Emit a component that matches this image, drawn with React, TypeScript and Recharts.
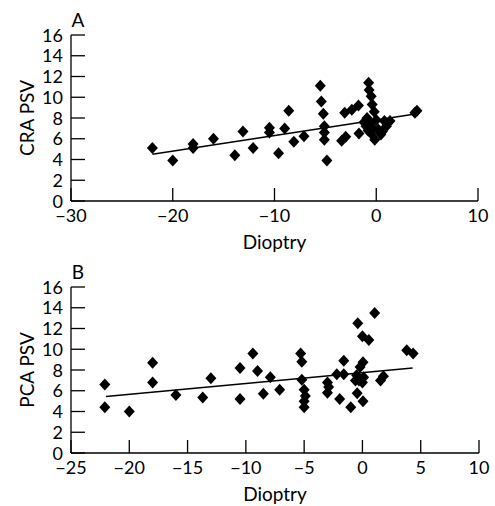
import React from 'react';
import { ScatterChart, Scatter, XAxis, YAxis, ReferenceLine } from 'recharts';

const FONT = 'Lato, "Noto Sans", sans-serif';

// Panel A: dioptry vs CRA PSV
const dioptryA = [
  -22.0, -20.0, -18.0, -18.0, -16.0, -13.9, -13.1, -12.1, -10.5, -10.5,
  -9.6, -9.0, -8.6, -8.1, -7.1, -5.5, -5.4, -5.2, -5.1, -5.1,
  -5.1, -4.85, -3.4, -3.0, -3.1, -2.4, -1.75, -1.7, -0.75, -0.7,
  -0.5, -0.4, -0.2, -0.9, -0.6, -1.0, -0.3, -0.8, 0.0, -0.5,
  0.2, -0.15, 0.45, 0.8, 1.0, 1.35, 3.8, 4.0, -1.2, 0.6,
];
const craPSV = [
  5.1, 3.9, 5.5, 5.1, 6.0, 4.4, 6.7, 5.1, 7.05, 6.6,
  4.6, 7.0, 8.7, 5.7, 6.25, 11.1, 9.6, 8.4, 7.2, 6.6,
  5.9, 3.9, 5.8, 6.2, 8.5, 8.8, 9.2, 6.5, 11.4, 10.7,
  10.1, 9.3, 8.6, 8.0, 7.6, 7.2, 7.0, 6.8, 7.8, 6.5,
  6.9, 5.9, 6.4, 7.7, 7.2, 7.7, 8.5, 8.7, 7.6, 6.7,
];
const fitA = [
  { x: -22, y: 4.5 },
  { x: 4, y: 8.4 },
];

// Panel B: dioptry vs PCA PSV
const dioptryB = [
  -22.1, -22.1, -20.0, -18.0, -18.0, -16.0, -13.7, -13.0, -10.5, -10.5,
  -9.4, -9.0, -8.5, -7.9, -7.1, -5.3, -5.2, -5.2, -5.0, -4.9,
  -5.0, -5.0, -3.0, -2.9, -3.0, -2.2, -1.6, -1.6, -1.95, -1.0,
  -0.4, 1.05, 0.0, 0.55, 0.05, -0.2, -0.5, -0.3, 0.1, -0.6,
  0.05, -0.45, 1.55, 1.8, 3.8, 4.35, 0.0,
];
const pcaPSV = [
  6.6, 4.4, 4.0, 8.7, 6.8, 5.6, 5.35, 7.2, 8.2, 5.2,
  9.6, 7.9, 5.7, 7.3, 6.1, 9.6, 8.8, 7.05, 6.1, 5.5,
  5.0, 4.4, 6.8, 6.35, 5.8, 7.6, 8.9, 7.6, 5.2, 4.4,
  12.5, 13.5, 11.25, 10.9, 8.75, 8.3, 7.5, 7.0, 7.3, 7.0,
  5.0, 5.75, 7.0, 7.4, 9.9, 9.6, 6.8,
];
const fitB = [
  { x: -22, y: 5.45 },
  { x: 4.3, y: 8.2 },
];

const yTicks = [0, 2, 4, 6, 8, 10, 12, 14, 16];
const xTicksA = [-30, -20, -10, 0, 10];
const xTicksB = [-25, -20, -15, -10, -5, 0, 5, 10];

const pointsA = dioptryA.map((d, i) => ({ x: d, y: craPSV[i] }));
const pointsB = dioptryB.map((d, i) => ({ x: d, y: pcaPSV[i] }));

const fmt = (v: number) => (v < 0 ? `\u2212${Math.abs(v)}` : `${v}`);

function YTick({ x, y, payload }: any) {
  return (
    <g>
      <line x1={x} y1={y} x2={x + 14} y2={y} stroke="#000" strokeWidth={1.3} />
      <text x={x - 8} y={y + 6.5} textAnchor="end" fontSize={18} fontFamily={FONT} fill="#000">
        {payload.value}
      </text>
    </g>
  );
}

function XTick({ x, y, payload }: any) {
  return (
    <g>
      <line x1={x} y1={y} x2={x} y2={y - 13} stroke="#000" strokeWidth={1.3} />
      <text x={x} y={y + 21} textAnchor="middle" fontSize={18} fontFamily={FONT} fill="#000">
        {fmt(payload.value)}
      </text>
    </g>
  );
}

const diamond = (props: any) => {
  const { cx, cy } = props;
  return (
    <path
      d={`M${cx},${cy - 6}L${cx + 5.5},${cy}L${cx},${cy + 6}L${cx - 5.5},${cy}Z`}
      fill="#000"
    />
  );
};

const yTitle = (title: string, letter: string) => (props: any) => {
  const vb = props.viewBox;
  const cy = vb.y + vb.height / 2;
  const ax = vb.x + vb.width;
  const bx = ax - 37;
  return (
    <g>
      <text
        x={bx} y={cy} transform={`rotate(-90, ${bx}, ${cy})`}
        textAnchor="middle" fontSize={19} fontFamily={FONT} fill="#000"
      >
        {title}
      </text>
      <text x={ax + 7} y={vb.y - 8} textAnchor="middle" fontSize={19} fontFamily={FONT} fill="#000">
        {letter}
      </text>
    </g>
  );
};

const xTitle = (props: any) => {
  const vb = props.viewBox;
  return (
    <text x={vb.x + vb.width / 2} y={vb.y + 48} textAnchor="middle" fontSize={19} fontFamily={FONT} fill="#000">
      Dioptry
    </text>
  );
};

function Panel({ points, fit, xTicks, yName, letter, top, margin }: any) {
  return (
    <div style={{ position: 'absolute', left: 0, top }}>
      <ScatterChart width={495} height={margin.top + 167 + margin.bottom} margin={margin}>
        <XAxis
          type="number" dataKey="x" domain={[xTicks[0], xTicks[xTicks.length - 1]]}
          ticks={xTicks} interval={0} height={1} tickSize={0} tickMargin={0}
          tickLine={false} axisLine={{ stroke: '#000', strokeWidth: 1.3 }}
          tick={<XTick />} label={xTitle}
        />
        <YAxis
          type="number" dataKey="y" domain={[0, 16]} ticks={yTicks} interval={0}
          width={1} tickSize={0} tickMargin={0} tickLine={false}
          axisLine={{ stroke: '#000', strokeWidth: 1.3 }}
          tick={<YTick />} label={yTitle(yName, letter)}
        />
        <ReferenceLine segment={fit} stroke="#000" strokeWidth={1.5} ifOverflow="visible" />
        <Scatter data={points} shape={diamond} isAnimationActive={false} />
      </ScatterChart>
    </div>
  );
}

export default function App() {
  return (
    <div style={{ position: 'absolute', left: 0, top: 0, width: 495, height: 506, background: '#fff', fontFamily: FONT }}>
      <Panel
        points={pointsA} fit={fitA} xTicks={xTicksA} yName="CRA PSV" letter="A"
        top={0} margin={{ top: 35, right: 17, bottom: 56, left: 70 }}
      />
      <Panel
        points={pointsB} fit={fitB} xTicks={xTicksB} yName="PCA PSV" letter="B"
        top={250} margin={{ top: 37, right: 16, bottom: 54, left: 70 }}
      />
    </div>
  );
}
